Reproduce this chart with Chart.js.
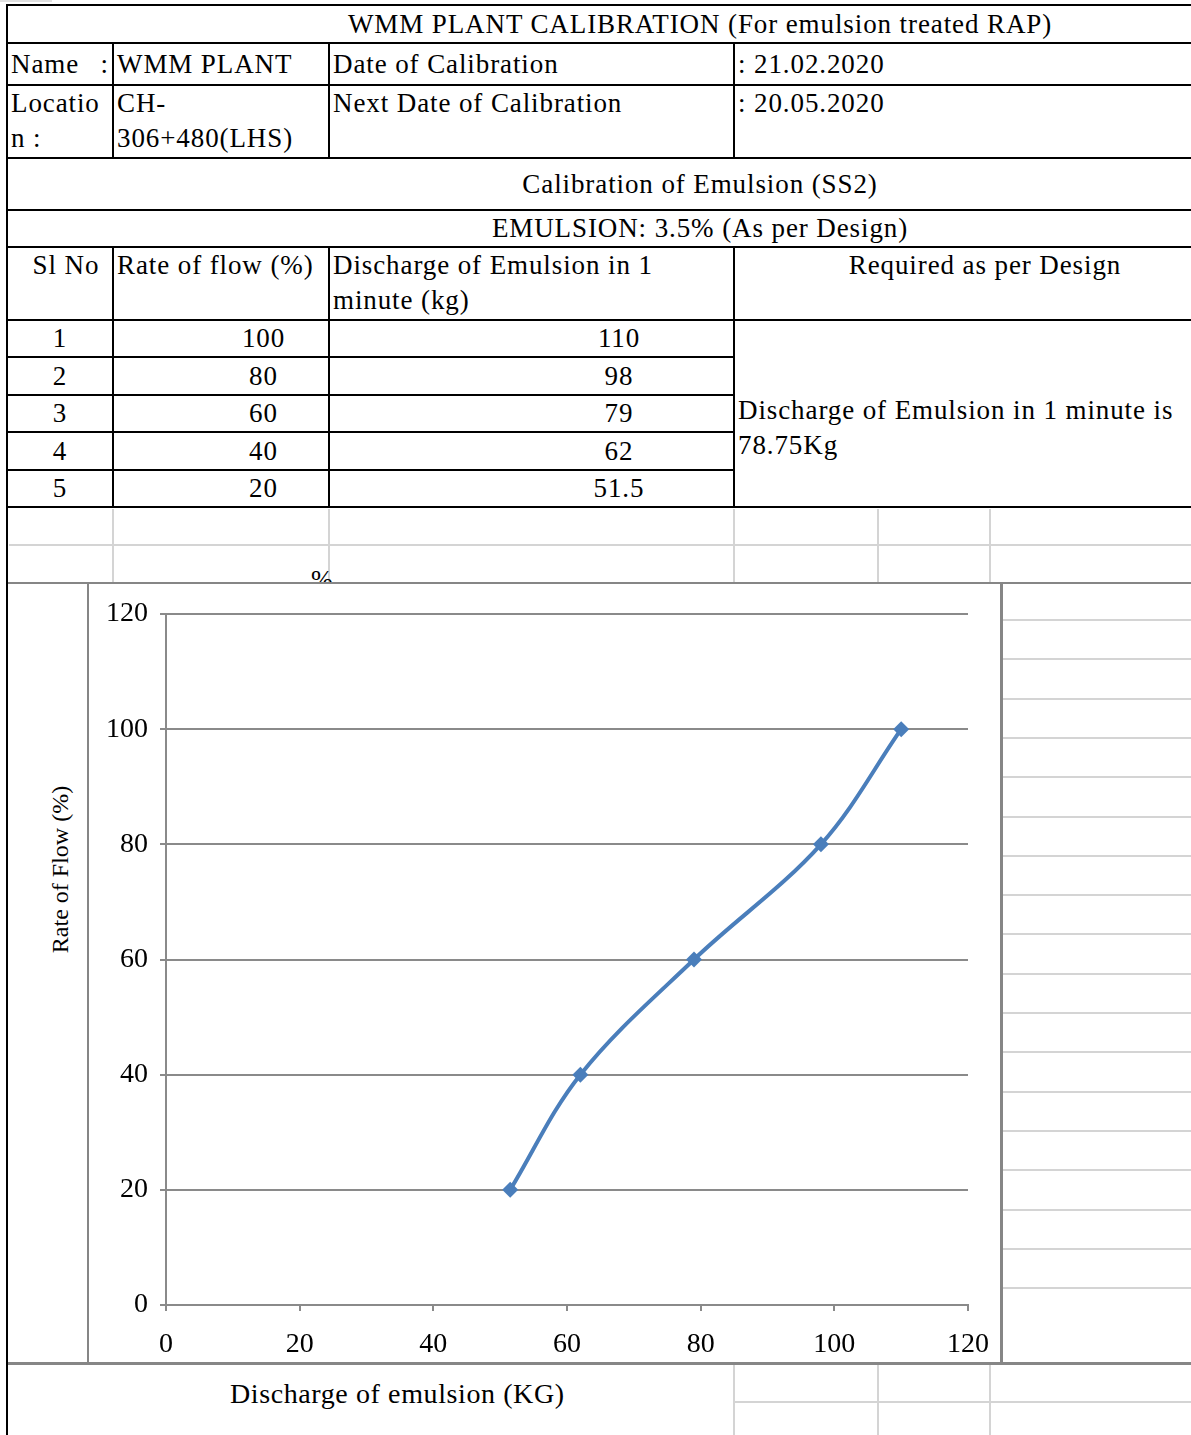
<!DOCTYPE html>
<html>
<head>
<meta charset="utf-8">
<title>WMM Plant Calibration</title>
<script src="https://cdn.jsdelivr.net/npm/chart.js@4.4.1/dist/chart.umd.min.js"></script>
<style>
    html, body { margin: 0; padding: 0; background: #fff; }
    body {
        width: 1191px; height: 1435px; overflow: hidden; position: relative;
        font-family: "Liberation Serif", "Times New Roman", serif; font-size: 27px;
        letter-spacing: 0.9px; color: #000;
    }
    .abs { position: absolute; }
    table.sheet {
        position: absolute; left: 6px; top: 4px;
        border-collapse: collapse; table-layout: fixed; width: 1386px;
    }
    .sheet td {
        border: 2px solid #000; padding: 0 3px; line-height: 35px;
        vertical-align: middle; white-space: nowrap; overflow: hidden;
    }
    .sheet td.top { vertical-align: top; }
    .sheet td.c { text-align: center; }
    .light { background: #d4d4d4; }
    .frame { background: #868686; }
    #chartBox { left: 9px; top: 584px; width: 992px; height: 778px; background: #fff; }
    #calChart { position: absolute; left: 81px; top: 1px; letter-spacing: 0; }
    .axisTitle { position: absolute; white-space: nowrap; }
</style>
</head>
<body>

<div class="abs" style="left:0;top:0;width:52px;height:2px;background:#e0e0e0"></div>

<table class="sheet">
    <colgroup>
        <col style="width:106px"><col style="width:216px"><col style="width:405px">
        <col style="width:502px"><col style="width:157px">
    </colgroup>
    <tr style="height:38px">
        <td class="c" colspan="5">WMM PLANT CALIBRATION (For emulsion treated RAP)</td>
    </tr>
    <tr style="height:42px">
        <td>Name<span style="float:right">:</span></td>
        <td>WMM PLANT</td>
        <td>Date of Calibration</td>
        <td colspan="2">: 21.02.2020</td>
    </tr>
    <tr style="height:73px">
        <td class="top">Locatio<br>n :</td>
        <td class="top">CH-<br>306+480(LHS)</td>
        <td class="top">Next Date of Calibration</td>
        <td class="top" colspan="2">: 20.05.2020</td>
    </tr>
    <tr style="height:52px">
        <td class="c" colspan="5">Calibration of Emulsion (SS2)</td>
    </tr>
    <tr style="height:37px">
        <td class="c" colspan="5">EMULSION: 3.5% (As per Design)</td>
    </tr>
    <tr style="height:73px">
        <td class="top c" style="padding-left:15px">Sl No</td>
        <td class="top">Rate of flow (%)</td>
        <td class="top">Discharge of Emulsion in 1<br>minute (kg)</td>
        <td class="top c">Required as per Design</td>
        <td></td>
    </tr>
    <tbody id="filasDatos"></tbody>
</table>

<!-- empty spreadsheet cells under the table -->
<div class="abs light" style="left:9px;top:544px;width:1182px;height:2px"></div>
<div class="abs light" style="left:112px;top:509px;width:2px;height:74px"></div>
<div class="abs light" style="left:328px;top:509px;width:2px;height:74px"></div>
<div class="abs light" style="left:733px;top:509px;width:2px;height:74px"></div>
<div class="abs light" style="left:877px;top:509px;width:2px;height:74px"></div>
<div class="abs light" style="left:989px;top:509px;width:2px;height:74px"></div>
<div class="abs" style="left:311px;top:565px;font-size:26px;letter-spacing:0">%</div>

<div class="abs light" style="left:733px;top:1365px;width:2px;height:70px"></div>
<div class="abs light" style="left:877px;top:1365px;width:2px;height:70px"></div>
<div class="abs light" style="left:989px;top:1365px;width:2px;height:70px"></div>
<div class="abs light" style="left:735px;top:1401px;width:456px;height:2px"></div>
<div id="gridDerecha"></div>

<!-- chart object -->
<div id="chartBox" class="abs">
    <canvas id="calChart" width="910" height="776"></canvas>
    <div class="axisTitle" style="font-size:24px;letter-spacing:0;left:-32px;top:272px;transform:rotate(-90deg);">Rate of Flow (%)</div>
</div>
<div class="abs frame" style="left:7px;top:582px;width:1184px;height:2px"></div>
<div class="abs frame" style="left:87px;top:583px;width:2px;height:780px"></div>
<div class="abs frame" style="left:1000px;top:583px;width:3px;height:780px"></div>
<div class="abs frame" style="left:7px;top:1362px;width:1184px;height:3px"></div>
<div class="abs" style="left:6px;top:508px;width:2px;height:927px;background:#000"></div>

<div class="axisTitle" style="left:230px;top:1378px;font-size:28px;letter-spacing:0.6px">Discharge of emulsion (KG)</div>

<script>
// calibration readings (Sl No / rate of flow % / discharge kg per minute)
const slNo = [1, 2, 3, 4, 5];
const rateOfFlow = [100, 80, 60, 40, 20];
const discharge = [110, 98, 79, 62, 51.5];
const axisTicks = [0, 20, 40, 60, 80, 100, 120];
const requiredText = ["Discharge of Emulsion in 1 minute is", "78.75Kg"];

const grey = '#8a8a8a';
const tickFont = { family: "'Liberation Serif', 'Times New Roman', serif", size: 28 };

function mostrarFilas() {
    const tbody = document.getElementById("filasDatos");
    slNo.forEach((n, i) => {
        const fila = document.createElement("tr");
        fila.style.height = (i % 2 === 0 ? 37 : 38) + "px";
        fila.innerHTML = `
            <td class="c">${n}</td>
            <td class="c" style="padding-left:88px">${rateOfFlow[i]}</td>
            <td class="c" style="padding-left:178px">${discharge[i]}</td>
        `;
        if (i === 0) {
            const req = document.createElement("td");
            req.rowSpan = slNo.length;
            req.className = "top";
            req.style.paddingTop = "72px";
            req.innerHTML = requiredText.join("<br>");
            fila.appendChild(req);
            const vacia = document.createElement("td");
            vacia.rowSpan = slNo.length;
            fila.appendChild(vacia);
        }
        tbody.appendChild(fila);
    });
}

// light cell lines to the right of the chart
function gridDerecha() {
    const cont = document.getElementById("gridDerecha");
    for (let k = 0; k < 18; k++) {
        const l = document.createElement("div");
        l.className = "abs light";
        l.style.cssText = `left:1003px;top:${Math.round(619 + k * 39.3)}px;width:188px;height:2px`;
        cont.appendChild(l);
    }
}

function dibujarGrafica() {
    const puntos = discharge.map((d, i) => ({ x: d, y: rateOfFlow[i] }));
    const paso = axisTicks[1] - axisTicks[0];

    new Chart(document.getElementById('calChart'), {
        type: 'line',
        data: {
            datasets: [{
                data: puntos,
                borderColor: '#4a7ebb',
                backgroundColor: '#4a7ebb',
                borderWidth: 4,
                tension: 0.35,
                pointStyle: 'rectRot',
                pointRadius: 8,
                pointBorderWidth: 0
            }]
        },
        options: {
            responsive: false,
            animation: false,
            layout: { padding: { top: 29, right: 32, left: 0, bottom: 0 } },
            plugins: { legend: { display: false }, tooltip: { enabled: false } },
            scales: {
                x: {
                    type: 'linear',
                    min: axisTicks[0],
                    max: axisTicks[axisTicks.length - 1],
                    ticks: { stepSize: paso, font: tickFont, color: '#000', padding: 17 },
                    grid: { drawOnChartArea: false, color: grey, lineWidth: 2, tickLength: 6 },
                    border: { color: grey, width: 2 },
                    // fixed plot box, label overhang is absorbed by the layout padding
                    afterFit: s => { s.height = 56; s.paddingLeft = 0; s.paddingRight = 0; }
                },
                y: {
                    min: axisTicks[0],
                    max: axisTicks[axisTicks.length - 1],
                    ticks: { stepSize: paso, font: tickFont, color: '#000', padding: 12 },
                    grid: { color: grey, lineWidth: 2, tickLength: 6 },
                    border: { color: grey, width: 2 },
                    afterFit: s => { s.width = 76; s.paddingTop = 0; s.paddingBottom = 0; }
                }
            }
        }
    });
}

mostrarFilas();
gridDerecha();
dibujarGrafica();
</script>
</body>
</html>
